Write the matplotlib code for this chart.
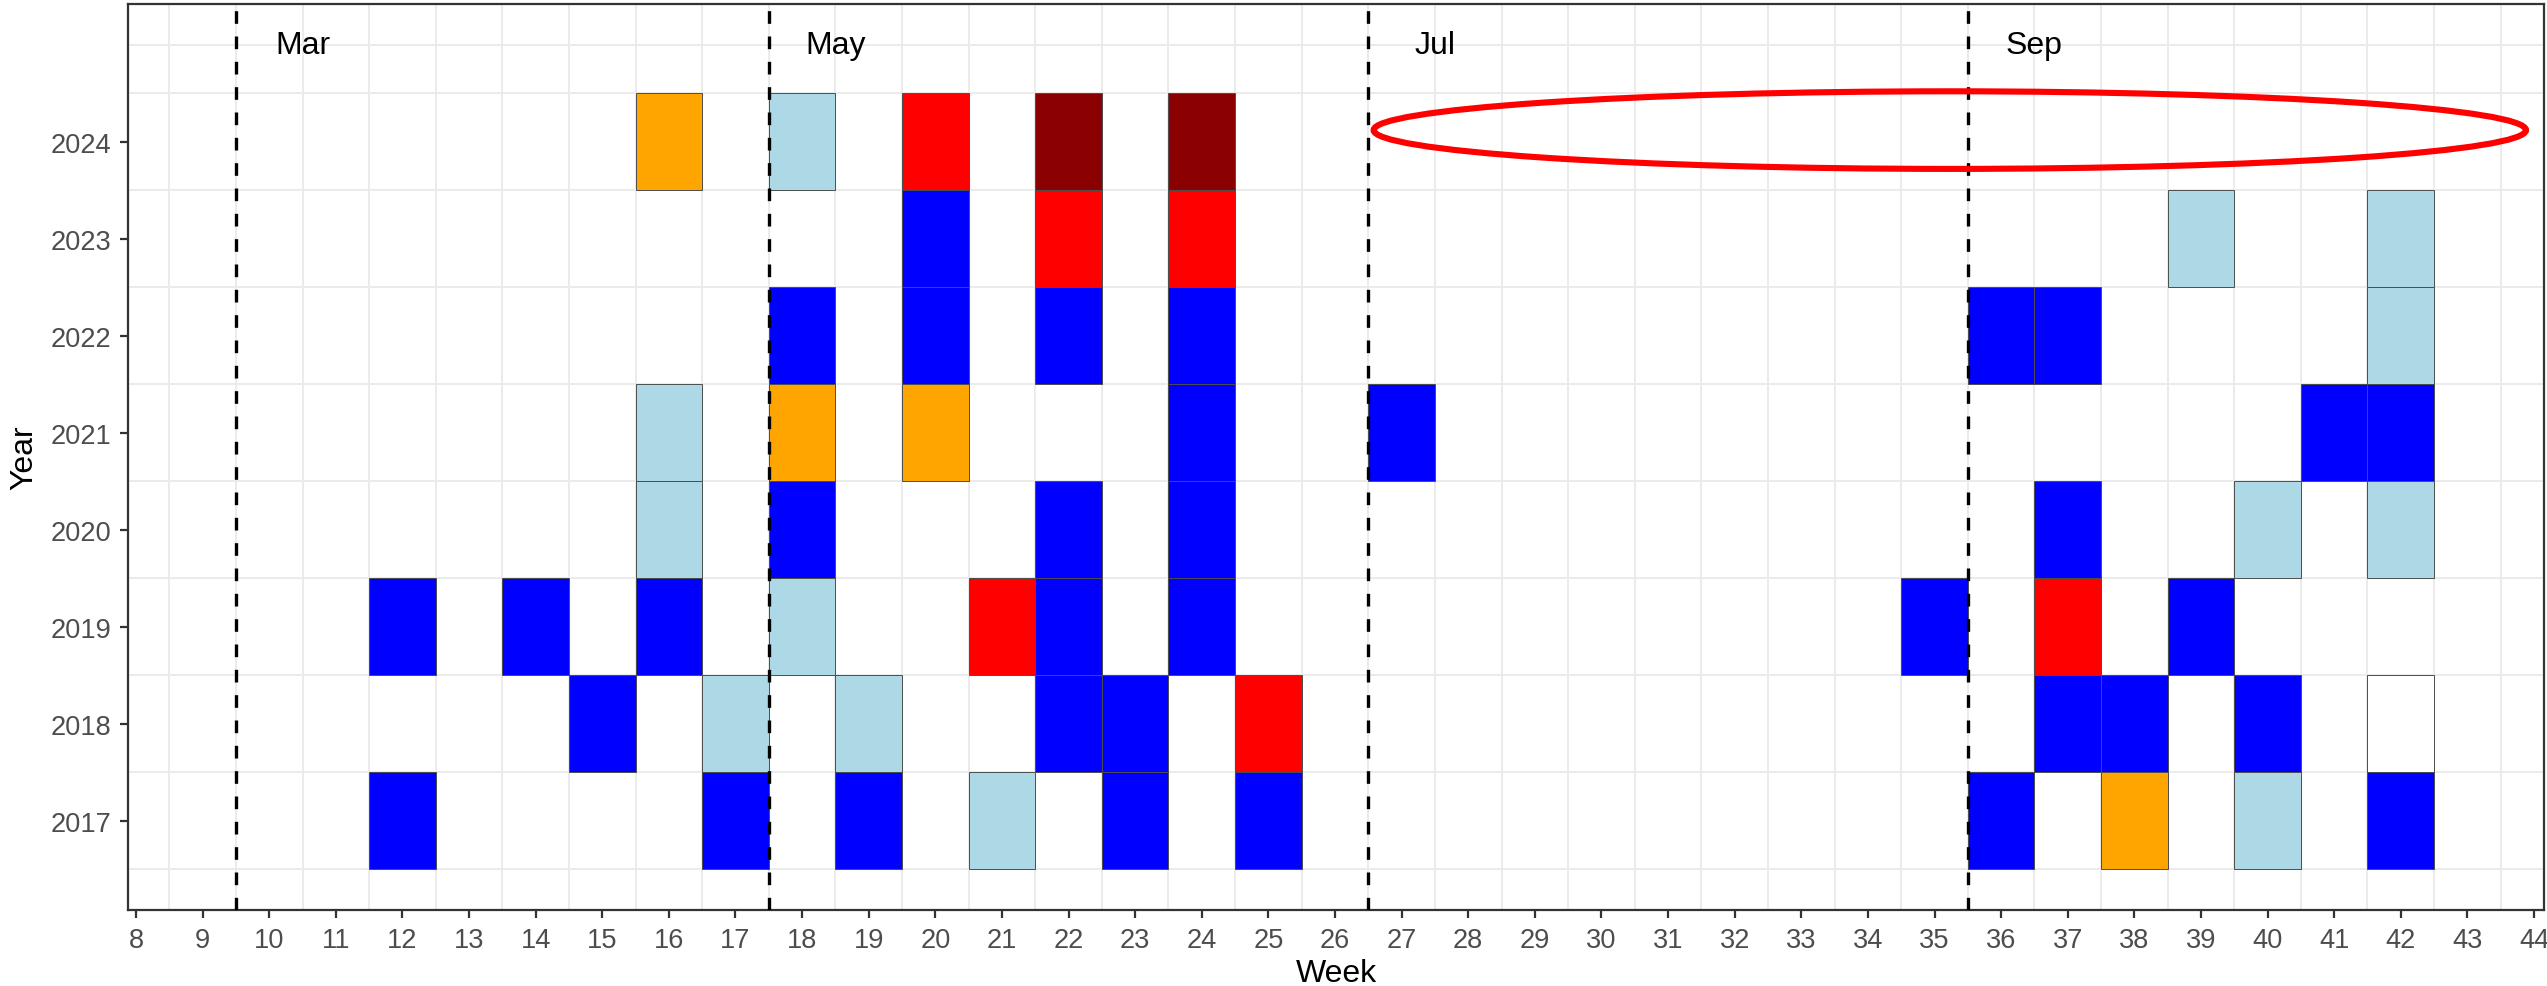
import matplotlib.pyplot as plt
from matplotlib.patches import Ellipse, Rectangle

plt.rcParams['font.family'] = ['Liberation Sans', 'DejaVu Sans']

# tile data: (year, week, colour)
years_2024 = [(16, 'orange'), (18, 'lightblue'), (20, 'red'), (22, 'darkred'), (24, 'darkred')]
years_2023 = [(20, 'blue'), (22, 'red'), (24, 'red'), (39, 'lightblue'), (42, 'lightblue')]
years_2022 = [(18, 'blue'), (20, 'blue'), (22, 'blue'), (24, 'blue'), (36, 'blue'), (37, 'blue'),
              (42, 'lightblue')]
years_2021 = [(16, 'lightblue'), (18, 'orange'), (20, 'orange'), (24, 'blue'), (27, 'blue'),
              (41, 'blue'), (42, 'blue')]
years_2020 = [(16, 'lightblue'), (18, 'blue'), (22, 'blue'), (24, 'blue'), (37, 'blue'),
              (40, 'lightblue'), (42, 'lightblue')]
years_2019 = [(12, 'blue'), (14, 'blue'), (16, 'blue'), (18, 'lightblue'), (21, 'red'), (22, 'blue'),
              (24, 'blue'), (35, 'blue'), (37, 'red'), (39, 'blue')]
years_2018 = [(15, 'blue'), (17, 'lightblue'), (19, 'lightblue'), (22, 'blue'), (23, 'blue'),
              (25, 'red'), (37, 'blue'), (38, 'blue'), (40, 'blue'), (42, 'white')]
years_2017 = [(12, 'blue'), (17, 'blue'), (19, 'blue'), (21, 'lightblue'), (23, 'blue'), (25, 'blue'),
              (36, 'blue'), (38, 'orange'), (40, 'lightblue'), (42, 'blue')]

tiles = {2024: years_2024, 2023: years_2023, 2022: years_2022, 2021: years_2021,
         2020: years_2020, 2019: years_2019, 2018: years_2018, 2017: years_2017}

month_weeks = [9.5, 17.5, 26.5, 35.5]
month_labels = ['Mar', 'May', 'Jul', 'Sep']

fill = {'blue': '#0000FF', 'lightblue': '#ADD8E6', 'orange': '#FFA500',
        'red': '#FF0000', 'darkred': '#8B0000', 'white': '#FFFFFF'}

fig = plt.figure(figsize=(2547 / 200, 987 / 200), dpi=200)
ax = fig.add_axes([128 / 2547, 1 - 911 / 987, (2544 - 128) / 2547, (911 - 5) / 987])

ax.set_xlim(7.88, 44.15)
ax.set_ylim(2016.08, 2025.42)

# grid lines (theme_bw look)
for x in range(8, 44):
    ax.axvline(x + 0.5, color='#EBEBEB', lw=0.7, zorder=0)
for y in [2016.5 + i for i in range(9)] + [2025]:
    ax.axhline(y, color='#EBEBEB', lw=0.7, zorder=0)

for year, cells in tiles.items():
    for week, c in cells:
        ax.add_patch(Rectangle((week - 0.5, year - 0.5), 1, 1, facecolor=fill[c],
                               edgecolor='#4D4D4D', lw=0.35, zorder=2))

for x, lab in zip(month_weeks, month_labels):
    ax.axvline(x, color='black', lw=1.2, linestyle=(0, (3.8, 3.8)), zorder=3)
    ax.text(x + 1, 2025, lab, ha='center', va='center', fontsize=11.5, color='black', zorder=4)

ax.add_patch(Ellipse((35.23, 2024.12), 17.3, 0.8, fill=False, edgecolor='#FF0000', lw=2.2, zorder=5))

ax.set_xticks(range(8, 45))
ax.set_yticks(range(2017, 2025))
ax.tick_params(axis='both', colors='#333333', labelcolor='#4D4D4D', labelsize=9.8,
               length=3, width=0.8, pad=3)
for s in ax.spines.values():
    s.set_color('#333333')
    s.set_linewidth(0.8)

ax.set_xlabel('Week', fontsize=11.5, labelpad=2)
ax.set_ylabel('Year', fontsize=11.5, labelpad=4)

fig.savefig('out.png', dpi=200, facecolor='white')
